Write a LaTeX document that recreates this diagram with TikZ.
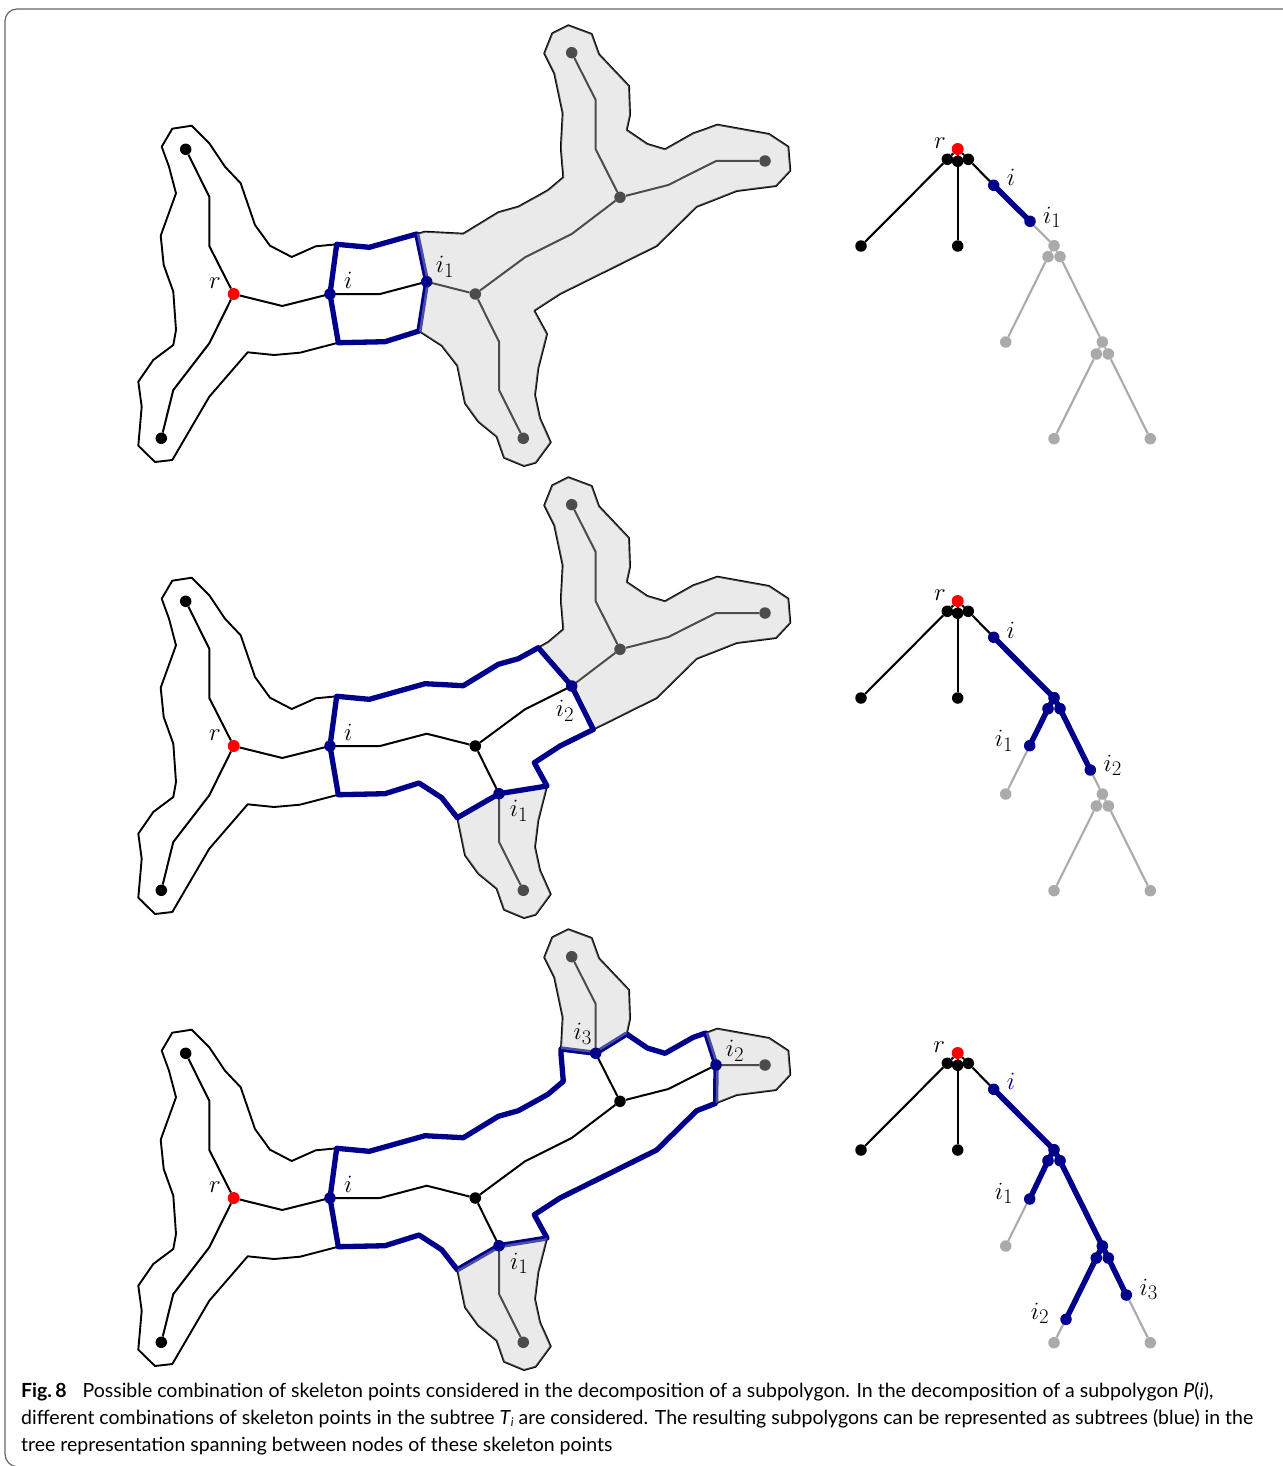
\documentclass[tikz,border=0pt]{standalone}
\usepackage[no-math]{fontspec}
\usepackage{tikz}
\newfontfamily\capfont{Lato}
\definecolor{skelblue}{HTML}{00008B}
\definecolor{treegray}{HTML}{AAAAAA}
\definecolor{framegray}{HTML}{666666}

\newcommand{\pieceN}{-- (369.3,247.3)}
\newcommand{\pieceA}{-- (425,231.7) -- (463.3,233.7) -- (498.3,212.3) -- (518.3,206.7) -- (538.3,195.7)}
\newcommand{\pieceB}{-- (548.3,190) -- (563.3,177.3) -- (561,150) -- (561,145)}
\newcommand{\pieceC}{-- (562.7,113.3) -- (554.3,73.3) -- (544.3,53.3) -- (552.3,33.3) -- (568.3,25.3) -- (591.7,34)
  -- (599,54.3) -- (629,86) -- (630,115) -- (626.7,130)}
\newcommand{\pieceD}{-- (647.3,144) -- (665,149.3) -- (693.3,133.3) -- (705.7,129)}
\newcommand{\pieceE}{-- (717.3,124.7) -- (769,134) -- (788.3,146.7) -- (790.3,170.7) -- (776,186) -- (736.7,191) -- (715.7,199.3)}
\newcommand{\pieceF}{-- (696.7,206.7) -- (656.7,246) -- (593.3,277.5)}
\newcommand{\pieceG}{-- (560,294) -- (534.3,310.7) -- (547,334)}
\newcommand{\pieceH}{-- (538.3,368.3) -- (535,395) -- (540,418.3) -- (550.7,442.3) -- (535.7,462.7) -- (524,466)
  -- (504,457.7) -- (496.7,436.7) -- (478.3,421.7) -- (465,403.3) -- (457.3,365.7)}
\newcommand{\pieceJ}{-- (441.7,345.7) -- (419,331)}
\newcommand{\pieceK}{-- (385,341.7) -- (338.3,342.7)}
\newcommand{\pieceL}{-- (300,352.7) -- (274,355) -- (247.7,352.3) -- (209.3,396.7) -- (172.3,460) -- (155,462)
  -- (138.3,445.7) -- (141.7,406.7) -- (138.3,381.7) -- (153.3,360) -- (173.3,345) -- (176,330) -- (173.3,291.7)
  -- (163.7,265) -- (160.7,235.7) -- (176,193.3) -- (169,166.7) -- (161.7,146.7) -- (172.3,128.7) -- (191.7,125.7)
  -- (209.3,143.3) -- (225,166.7) -- (240.7,183.3) -- (255,225) -- (270,245.7) -- (291.7,257) -- (315.7,246.3)}

\newcommand{\polygonbase}[1]{
  \draw[outline] (336.7,244.3) \pieceN -- (416.7,234) \pieceA \pieceB \pieceC \pieceD \pieceE \pieceF \pieceG
    \pieceH \pieceJ \pieceK \pieceL -- cycle;

  \coordinate (#1neck)  at (330,294);
  \coordinate (#1neckb) at (426.7,281.7);
  \coordinate (#1southb) at (499,341.7);
  \coordinate (#1eastb) at (571.7,234);
  \coordinate (#1north) at (595.7,149.3);
  \coordinate (#1east)  at (716,161);

  \node[skelpt] (#1nw)    at (185.7,149.3) {};
  \node[skelpt] (#1sw)    at (161.3,438.3) {};
  \node[skelpt] (#1jct)   at (475.3,294) {};
  \node[skelpt] (#1jcte)  at (620,197.3) {};
  \node[skelpt] (#1leafn) at (571.7,52.7) {};
  \node[skelpt] (#1leafe) at (765,161) {};
  \node[skelpt] (#1leafs) at (523.3,438.3) {};
  \node[rootpt] (#1root)  at (233.7,294) {};

  \draw[skel] (#1root) -- (209.3,246) -- (209.3,196.7) -- (#1nw);
  \draw[skel] (#1root) -- (209.3,343.3) -- (173.3,390) -- (#1sw);
  \draw[skel] (#1root) -- (282.3,306) -- (#1neck) -- (380,294) -- (#1neckb) -- (#1jct);
  \draw[skel] (#1jct) -- (525,257.3) -- (#1eastb) -- (#1jcte);
  \draw[skel] (#1jcte) -- (668.3,185) -- (716,161) -- (#1leafe);
  \draw[skel] (#1jcte) -- (#1north) -- (595.7,100) -- (#1leafn);
  \draw[skel] (#1jct) -- (#1southb) -- (499,390) -- (#1leafs);
}

\newcommand{\treebase}[1]{
  \coordinate (#1tn) at (993.7,185.3);
  \node[treeblack] (#1tl) at (947.3,159.3) {};
  \node[treeblack] (#1tm) at (957.7,161.3) {};
  \node[treeblack] (#1tr) at (968.3,159.3) {};
  \node[treeblack] (#1tla) at (861,246) {};
  \node[treeblack] (#1tlb) at (957.7,246) {};
  \node[treegrey] (#1ta) at (1054,245.7) {};
  \node[treegrey] (#1tb) at (1048,256.7) {};
  \node[treegrey] (#1tc) at (1060,256.7) {};
  \node[treegrey] (#1tlc) at (1005.7,342) {};
  \node[treegrey] (#1td) at (1102.3,342) {};
  \node[treegrey] (#1te) at (1096.3,354) {};
  \node[treegrey] (#1tf) at (1108.3,354) {};
  \node[treegrey] (#1tld) at (1054,438.7) {};
  \node[treegrey] (#1tle) at (1150.3,438.7) {};
  \node[rootpt] (#1troot) at (957.7,149) {};
  \draw[treeline] (#1troot) -- (#1tl);
  \draw[treeline] (#1troot) -- (#1tm);
  \draw[treeline] (#1troot) -- (#1tr);
  \draw[treeline] (#1tl) -- (#1tla);
  \draw[treeline] (#1tm) -- (#1tlb);
  \draw[treeline] (#1tr) -- (#1tn);
  \draw[greyline] (#1tn) -- (#1ta);
  \draw[greyline] (#1ta) -- (#1tb);
  \draw[greyline] (#1ta) -- (#1tc);
  \draw[greyline] (#1tb) -- (#1tlc);
  \draw[greyline] (#1tc) -- (#1td);
  \draw[greyline] (#1td) -- (#1te);
  \draw[greyline] (#1td) -- (#1tf);
  \draw[greyline] (#1te) -- (#1tld);
  \draw[greyline] (#1tf) -- (#1tle);
}

\begin{document}
\begin{tikzpicture}[
        x=1pt, y=-1pt,
        outline/.style={draw=black, line width=1.9pt, line join=round},
        skel/.style={black, line width=2pt, line join=round},
        skelpt/.style={circle, fill=black, inner sep=0pt, minimum size=11.5pt},
        rootpt/.style={circle, fill=red, inner sep=0pt, minimum size=12pt},
        bluept/.style={circle, fill=skelblue, inner sep=0pt, minimum size=11.5pt},
        cutline/.style={draw=skelblue, line width=5.3pt, line join=round},
        shade/.style={fill=black!21, fill opacity=0.38},
        treeblack/.style={circle, fill=black, inner sep=0pt, minimum size=11.5pt},
        treegrey/.style={circle, fill=treegray, inner sep=0pt, minimum size=11.5pt},
        treeline/.style={black, line width=2.1pt},
        greyline/.style={treegray, line width=2.1pt},
        treeblue/.style={skelblue, line width=5.5pt},
        lbl/.style={font=\Huge, inner sep=0pt}
      ]
        \useasboundingbox (0,0) rectangle (1282,1466);
        \draw[framegray, line width=1.2pt, rounded corners=12pt] (1290,9) -- (5,9) -- (5,1466) -- (20,1467);

        % first row
        \begin{scope}
          \polygonbase{a}
          \draw[cutline] (aneck) -- (336.7,244.3) \pieceN -- (416.7,234) -- (aneckb) -- (419,331) \pieceK -- cycle;
          \fill[shade] (416.7,234) \pieceA \pieceB \pieceC \pieceD \pieceE \pieceF \pieceG \pieceH \pieceJ -- (aneckb) -- cycle;
          \node[bluept] (ai) at (aneck) {};
          \node[bluept] (aione) at (aneckb) {};
          \node[lbl] (labelar) at (215,282.7) {$r$};
          \node[lbl] (labelai) at (348.3,280.7) {$i$};
          \node[lbl] (labelaione) at (445,266.7) {$i_1$};

          \treebase{a}
          \coordinate (atione) at (1030,221.3);
          \draw[treeblue] (atn) -- (atione);
          \node[bluept] (ati) at (atn) {};
          \node[bluept] (atonept) at (atione) {};
          \node[lbl] (labelatr) at (940,142.7) {$r$};
          \node[lbl] (labelati) at (1011,177.3) {$i$};
          \node[lbl] (labelatone) at (1052.3,217.3) {$i_1$};
        \end{scope}

        % second row
        \begin{scope}[shift={(0,452)}]
          \polygonbase{b}
          \fill[shade] (538.3,195.7) \pieceB \pieceC \pieceD \pieceE \pieceF -- (beastb) -- cycle;
          \fill[shade] (547,334) \pieceH -- (bsouthb) -- cycle;
          \draw[cutline] (bneck) -- (336.7,244.3) \pieceN \pieceA -- (beastb) -- (593.3,277.5) \pieceG -- (bsouthb)
            -- (457.3,365.7) \pieceJ \pieceK -- cycle;
          \node[bluept] (bi) at (bneck) {};
          \node[bluept] (bione) at (bsouthb) {};
          \node[bluept] (bitwo) at (beastb) {};
          \node[lbl] (labelbr) at (215,282.7) {$r$};
          \node[lbl] (labelbi) at (348.3,280.7) {$i$};
          \node[lbl] (labelbione) at (519,358.7) {$i_1$};
          \node[lbl] (labelbitwo) at (565,258.7) {$i_2$};

          \treebase{b}
          \coordinate (btione) at (1029.7,293.7);
          \coordinate (btitwo) at (1090.3,318);
          \draw[treeblue] (btn) -- (bta.center);
          \draw[treeblue] (bta.center) -- (btb.center) -- (btione);
          \draw[treeblue] (bta.center) -- (btc.center) -- (btitwo);
          \node[bluept] (bti) at (btn) {};
          \node[bluept] (bta2) at (bta) {};
          \node[bluept] (btb2) at (btb) {};
          \node[bluept] (btc2) at (btc) {};
          \node[bluept] (btonept) at (btione) {};
          \node[bluept] (bttwopt) at (btitwo) {};
          \node[lbl] (labelbtr) at (940,143) {$r$};
          \node[lbl] (labelbti) at (1010.7,178) {$i$};
          \node[lbl] (labelbtone) at (1004,289) {$i_1$};
          \node[lbl] (labelbttwo) at (1112.7,313.3) {$i_2$};
        \end{scope}

        % third row
        \begin{scope}[shift={(0,904)}]
          \polygonbase{c}
          \draw[cutline] (cneck) -- (336.7,244.3) \pieceN \pieceA \pieceB -- (cnorth) -- (626.7,130) \pieceD -- (ceast)
            -- (715.7,199.3) \pieceF \pieceG -- (csouthb) -- (457.3,365.7) \pieceJ \pieceK -- cycle;
          \fill[shade] (561,145) \pieceC -- (cnorth) -- cycle;
          \fill[shade] (705.7,129) \pieceE -- (ceast) -- cycle;
          \fill[shade] (547,334) \pieceH -- (csouthb) -- cycle;
          \node[bluept] (ci) at (cneck) {};
          \node[bluept] (cione) at (csouthb) {};
          \node[bluept] (citwo) at (ceast) {};
          \node[bluept] (cithree) at (cnorth) {};
          \node[lbl] (labelcr) at (215,282.7) {$r$};
          \node[lbl] (labelci) at (348.3,280.7) {$i$};
          \node[lbl] (labelcione) at (519.3,359.3) {$i_1$};
          \node[lbl] (labelcitwo) at (735,146.7) {$i_2$};
          \node[lbl] (labelcithree) at (582.7,130) {$i_3$};

          \treebase{c}
          \coordinate (ctione) at (1029.7,295);
          \coordinate (ctitwo) at (1066,415.3);
          \coordinate (ctithree) at (1126.3,391);
          \draw[treeblue] (ctn) -- (cta.center);
          \draw[treeblue] (cta.center) -- (ctb.center) -- (ctione);
          \draw[treeblue] (cta.center) -- (ctc.center) -- (ctd.center);
          \draw[treeblue] (ctd.center) -- (cte.center) -- (ctitwo);
          \draw[treeblue] (ctd.center) -- (ctf.center) -- (ctithree);
          \node[bluept] (cti) at (ctn) {};
          \node[bluept] (cta2) at (cta) {};
          \node[bluept] (ctb2) at (ctb) {};
          \node[bluept] (ctc2) at (ctc) {};
          \node[bluept] (ctd2) at (ctd) {};
          \node[bluept] (cte2) at (cte) {};
          \node[bluept] (ctf2) at (ctf) {};
          \node[bluept] (ctonept) at (ctione) {};
          \node[bluept] (cttwopt) at (ctitwo) {};
          \node[bluept] (ctthreept) at (ctithree) {};
          \node[lbl] (labelctr) at (939.3,143.3) {$r$};
          \node[lbl, text=skelblue] (labelcti) at (1011,177.7) {$i$};
          \node[lbl] (labelctone) at (1004,289.3) {$i_1$};
          \node[lbl] (labelcttwo) at (1040,409.3) {$i_2$};
          \node[lbl] (labelctthree) at (1148.7,385.3) {$i_3$};
        \end{scope}

        \node[anchor=north west, align=left, inner sep=0pt, font=\capfont\fontsize{19.5}{27}\selectfont] (caption) at (21,1382.5)
          {\textbf{Fig.\,8}\hspace{16pt}Possible combination of skeleton points considered in the decomposition of a subpolygon. In the decomposition of a subpolygon \textit{P}(\textit{i}),\\
           different combinations of skeleton points in the subtree \textit{T}\raisebox{-2pt}{\fontsize{12}{12}\selectfont\textit{i}} are considered. The resulting subpolygons can be represented as subtrees (blue) in the\\
           tree representation spanning between nodes of these skeleton points};
      \end{tikzpicture}
\end{document}
